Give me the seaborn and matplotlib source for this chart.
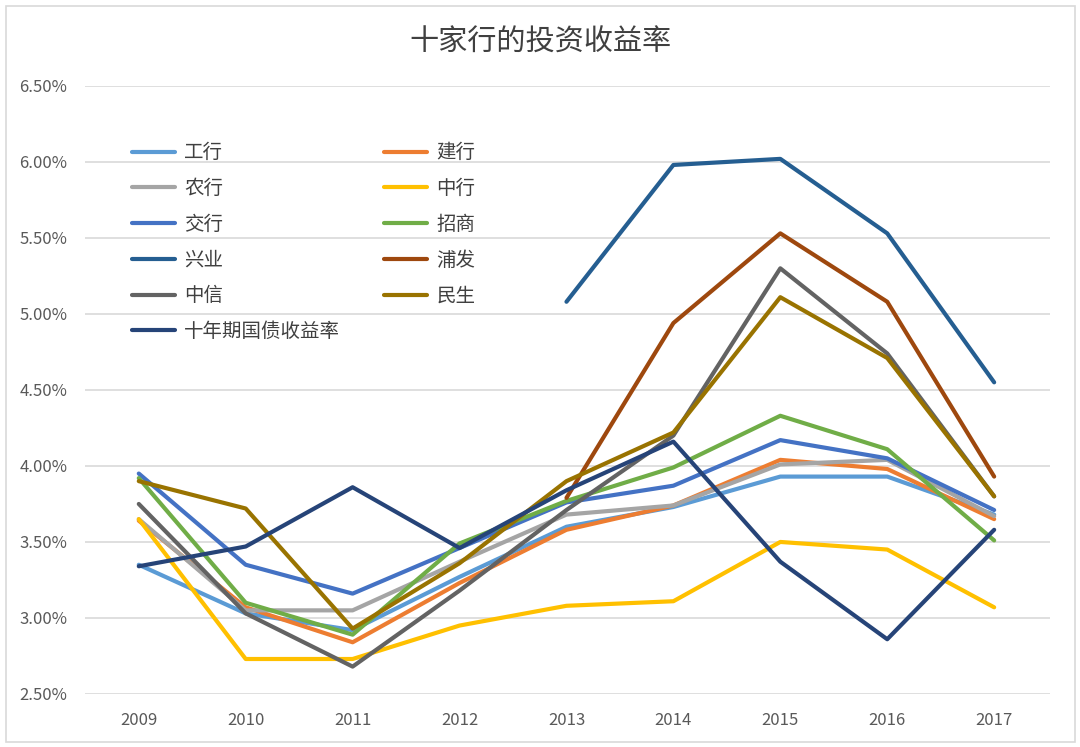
import numpy as np
import pandas as pd
import matplotlib
matplotlib.use('Agg')
import matplotlib.pyplot as plt
import seaborn as sns
from matplotlib.patches import Rectangle
from matplotlib.ticker import FuncFormatter

# data
years = [2009, 2010, 2011, 2012, 2013, 2014, 2015, 2016, 2017]
names = ['工行', '建行', '农行', '中行', '交行', '招商', '兴业', '浦发', '中信', '民生', '十年期国债收益率']

gonghang = [3.35, 3.03, 2.92, 3.27, 3.60, 3.73, 3.93, 3.93, 3.68]
jianhang = [3.64, 3.07, 2.84, 3.23, 3.58, 3.74, 4.04, 3.98, 3.65]
nonghang = [3.65, 3.05, 3.05, 3.37, 3.68, 3.74, 4.01, 4.04, 3.67]
zhonghang = [3.65, 2.73, 2.73, 2.95, 3.08, 3.11, 3.50, 3.45, 3.07]
jiaohang = [3.95, 3.35, 3.16, 3.46, 3.76, 3.87, 4.17, 4.05, 3.71]
zhaoshang = [3.92, 3.10, 2.89, 3.49, 3.77, 3.99, 4.33, 4.11, 3.51]
xingye = [np.nan, np.nan, np.nan, np.nan, 5.08, 5.98, 6.02, 5.53, 4.55]
pufa = [np.nan, np.nan, np.nan, np.nan, 3.79, 4.94, 5.53, 5.08, 3.93]
zhongxin = [3.75, 3.03, 2.68, 3.18, 3.71, 4.20, 5.30, 4.74, 3.80]
minsheng = [3.90, 3.72, 2.93, 3.36, 3.90, 4.22, 5.11, 4.71, 3.80]
guozhai = [3.34, 3.47, 3.86, 3.46, 3.84, 4.16, 3.37, 2.86, 3.58]

series = [gonghang, jianhang, nonghang, zhonghang, jiaohang, zhaoshang,
          xingye, pufa, zhongxin, minsheng, guozhai]
colors = ['#5B9BD5', '#ED7D31', '#A5A5A5', '#FFC000', '#4472C4', '#70AD47',
          '#255E91', '#9E480E', '#636363', '#997300', '#264478']

rows = []
for n, vals in zip(names, series):
    for y, v in zip(years, vals):
        rows.append({'year': y, 'bank': n, 'rate': v})
df = pd.DataFrame(rows)

sns.set_style('white')
plt.rcParams['font.family'] = ['Noto Sans CJK SC', 'DejaVu Sans']

fig = plt.figure(figsize=(10.8, 7.47), dpi=100)
ax = fig.add_axes([0.079, 0.071, 0.893, 0.814])

sns.lineplot(data=df, x='year', y='rate', hue='bank', hue_order=names,
             palette=dict(zip(names, colors)), linewidth=3, ax=ax)

ax.set_xlim(2008.5, 2017.52)
ax.set_ylim(2.5, 6.5)
ax.set_xticks(years)
ax.set_yticks(np.arange(2.5, 6.51, 0.5))
ax.yaxis.set_major_formatter(FuncFormatter(lambda v, p: f'{v:.2f}%'))
ax.grid(axis='y', color='#D9D9D9', linewidth=1.2)
ax.set_axisbelow(True)
for s in ax.spines.values():
    s.set_visible(False)
ax.tick_params(axis='both', length=0, colors='#595959', labelsize=12)
ax.tick_params(axis='x', pad=13)
ax.tick_params(axis='y', pad=13)
ax.set_xlabel('')
ax.set_ylabel('')

# legend filled row by row like the original
handles, labels = ax.get_legend_handles_labels()
lookup = dict(zip(labels, handles))
order = ['工行', '农行', '交行', '兴业', '中信', '十年期国债收益率',
         '建行', '中行', '招商', '浦发', '民生']
leg = ax.legend([lookup[k] for k in order], order, ncol=2, frameon=False,
                loc='upper left', bbox_to_anchor=(0.03, 0.936),
                fontsize=14, handlelength=2.2, columnspacing=2.25,
                labelspacing=0.76, handletextpad=0.5)
for t in leg.get_texts():
    t.set_color('#404040')

fig.text(0.5, 0.943, '十家行的投资收益率', ha='center', va='center',
         fontsize=21, color='#404040')

fig.add_artist(Rectangle((0.006, 0.007), 0.989, 0.985, transform=fig.transFigure,
                         fill=False, edgecolor='#D9D9D9', linewidth=1.2))

fig.savefig('out.png', dpi=100, facecolor='white')
